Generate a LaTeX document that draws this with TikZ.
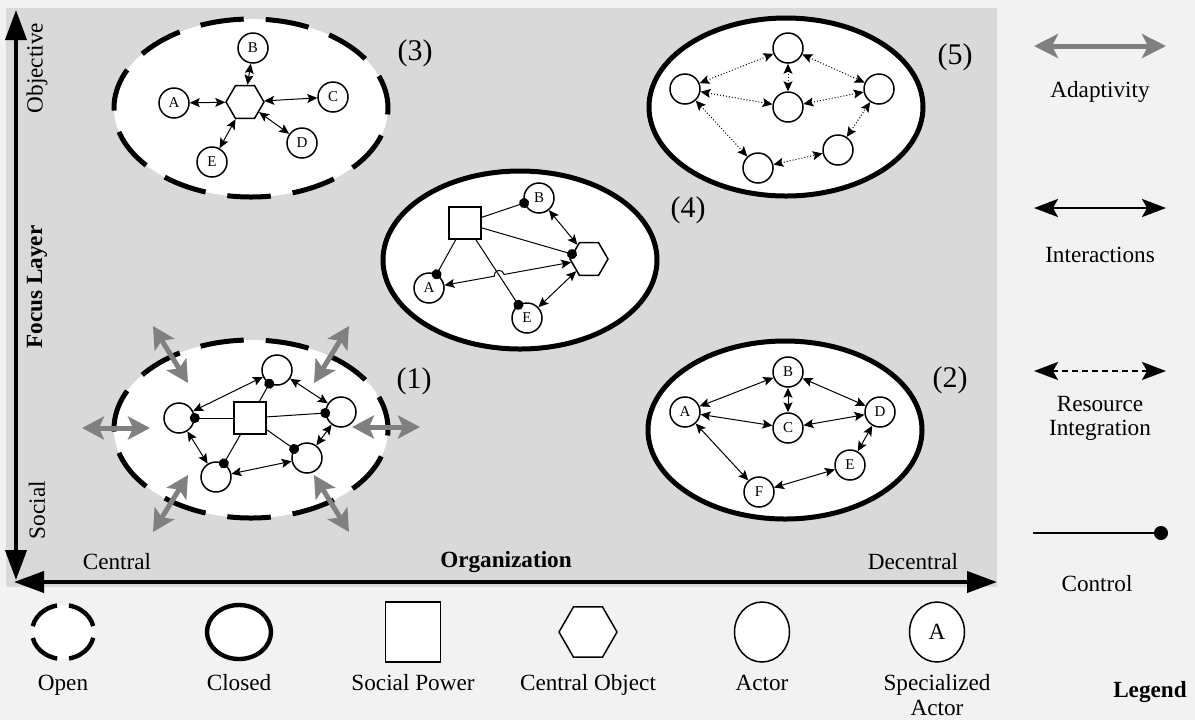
\documentclass[tikz,border=0pt]{standalone}
\usepackage{fontspec}
\setmainfont{Liberation Serif}
\usetikzlibrary{arrows.meta,shapes.geometric,calc}
\definecolor{bgouter}{HTML}{F2F2F2}
\definecolor{bginner}{HTML}{D9D9D9}
\definecolor{adaptgray}{HTML}{808080}
\begin{document}
\begin{tikzpicture}[x=0.5pt,y=-0.5pt,font=\fontsize{11.6}{13}\selectfont,
 actor/.style={circle,draw,line width=0.75pt,fill=white,minimum size=15pt,inner sep=0pt,font=\fontsize{7.5}{8}\selectfont},
 hexa/.style={regular polygon,regular polygon sides=6,draw,line width=0.75pt,fill=white,minimum size=19pt,inner sep=0pt},
 power/.style={rectangle,draw,line width=0.75pt,fill=white,minimum size=16pt,inner sep=0pt},
 inter/.style={line width=0.5pt,{Stealth[length=5pt,width=4.5pt,inset=1pt]}-{Stealth[length=5pt,width=4.5pt,inset=1pt]}},
 resource/.style={inter,densely dotted},
 ctrl/.style={line width=0.5pt,-{Circle[length=5pt]},shorten >=-2.5pt},
 adapt/.style={draw=adaptgray,line width=2.5pt,{Stealth[length=11pt,width=11.5pt,inset=2.5pt]}-{Stealth[length=11pt,width=11.5pt,inset=2.5pt]}},
 closedgroup/.style={ellipse,draw,line width=2.5pt,fill=white,inner sep=0pt,minimum width=137pt,minimum height=89pt},
 opengroup/.style={closedgroup,draw=none,postaction={draw,line width=2.5pt,dash pattern=on 21.8pt off 11pt,dash phase=5pt}},
 tag/.style={font=\fontsize{15}{17}\selectfont},
 axis/.style={line width=2pt,{Triangle[length=15pt,width=10.5pt]}-{Triangle[length=15pt,width=10.5pt]}},
 axlabel/.style={font=\fontsize{11.6}{13}\selectfont},
 boldlabel/.style={font=\fontsize{11.6}{13}\selectfont\bfseries},
 lgshape/.style={draw,line width=0.75pt,fill=white,inner sep=0pt},
 lgtext/.style={anchor=base,inner sep=0pt},
 lgadapt/.style={draw=adaptgray,line width=2.5pt,{Stealth[length=12pt,width=12pt,inset=3pt]}-{Stealth[length=12pt,width=12pt,inset=3pt]}},
 lginter/.style={line width=1.2pt,{Stealth[length=12pt,width=9pt,inset=2.5pt]}-{Stealth[length=12pt,width=9pt,inset=2.5pt]}},
 lgres/.style={lginter,dash pattern=on 3pt off 2pt},
 lgctrl/.style={line width=1pt,-{Circle[length=7pt]}}
]
\useasboundingbox (0,0) rectangle (1195,720);
\fill[bgouter] (0,0) rectangle (1195,720);
\fill[bginner] (6,8) rectangle (997,587);

% ---------- groups ----------
\node[opengroup] (g3) at (251,108) {};
\node[closedgroup] (g5) at (786,107) {};
\node[closedgroup] (g4) at (520,260) {};
\node[opengroup] (g1) at (251,429) {};
\node[closedgroup] (g2) at (785,430) {};

\node[tag] (t3) at (415,53) {(3)};
\node[tag] (t5) at (955,57) {(5)};
\node[tag] (t4) at (688,210) {(4)};
\node[tag] (t1) at (414,381) {(1)};
\node[tag] (t2) at (950,380) {(2)};

% ---------- group (3) ----------
\node[hexa] (h3) at (245,102) {};
\node[actor] (B3) at (253,48) {B};
\node[actor] (A3) at (174,103) {A};
\node[actor] (C3) at (333,97) {C};
\node[actor] (D3) at (302,143) {D};
\node[actor] (E3) at (212,162) {E};
\foreach \n in {A3,B3,C3,D3,E3} \draw[inter] (\n) -- (h3);

% ---------- group (5) ----------
\node[actor] (t5n) at (788,48) {};
\node[actor] (l5n) at (685,89) {};
\node[actor] (m5n) at (788,107) {};
\node[actor] (r5n) at (879,89) {};
\node[actor] (br5n) at (838,150) {};
\node[actor] (bl5n) at (758,168) {};
\draw[resource] (l5n) -- (t5n);
\draw[resource] (t5n) -- (r5n);
\draw[resource] (t5n) -- (m5n);
\draw[resource] (l5n) -- (m5n);
\draw[resource] (m5n) -- (r5n);
\draw[resource] (l5n) -- (bl5n);
\draw[resource] (bl5n) -- (br5n);
\draw[resource] (br5n) -- (r5n);

% ---------- group (4) ----------
\node[power] (S4) at (465,223) {};
\node[actor] (B4) at (539,198) {B};
\node[hexa] (h4) at (589,259) {};
\node[actor] (A4) at (429,288) {A};
\node[actor] (E4) at (527,318) {E};
\draw[ctrl] (S4) -- (B4);
\draw[ctrl] (S4) -- (h4);
\draw[ctrl] (S4) -- (A4);
\draw[ctrl] (S4) -- (E4);
\draw[inter] (B4) -- (h4);
\draw[inter] (E4) -- (h4);
\coordinate (X4) at (intersection of A4--h4 and S4--E4);
\draw[inter] (A4) -- ($(X4)!2.5pt!(A4)$) arc[start angle=190.27,end angle=10.27,radius=2.5pt] -- (h4);

% ---------- group (1) ----------
\node[power] (S1) at (250,418) {};
\node[actor] (T1) at (277,370) {};
\node[actor] (L1) at (179,418) {};
\node[actor] (R1) at (341,412) {};
\node[actor] (BR1) at (307,458) {};
\node[actor] (BL1) at (216,477) {};
\foreach \n in {T1,L1,R1,BR1,BL1} \draw[ctrl] (S1) -- (\n);
\draw[inter] (L1) -- (T1);
\draw[inter] (T1) -- (R1);
\draw[inter] (R1) -- (BR1);
\draw[inter] (BR1) -- (BL1);
\draw[inter] (BL1) -- (L1);
\coordinate (a1s) at (82,428);  \coordinate (a1e) at (150,428);
\coordinate (a2s) at (352,427); \coordinate (a2e) at (420,427);
\coordinate (a3s) at (153,326); \coordinate (a3e) at (188,383);
\coordinate (a4s) at (349,326); \coordinate (a4e) at (314,383);
\coordinate (a5s) at (188,475); \coordinate (a5e) at (153,532);
\coordinate (a6s) at (314,475); \coordinate (a6e) at (349,532);
\foreach \i in {1,...,6} \draw[adapt] (a\i s) -- (a\i e);

% ---------- group (2) ----------
\node[actor] (A2) at (685,412) {A};
\node[actor] (B2) at (788,372) {B};
\node[actor] (C2) at (788,428) {C};
\node[actor] (D2) at (880,412) {D};
\node[actor] (E2) at (850,465) {E};
\node[actor] (F2) at (759,492) {F};
\draw[inter] (A2) -- (B2);
\draw[inter] (B2) -- (D2);
\draw[inter] (B2) -- (C2);
\draw[inter] (A2) -- (C2);
\draw[inter] (C2) -- (D2);
\draw[inter] (A2) -- (F2);
\draw[inter] (F2) -- (E2);
\draw[inter] (E2) -- (D2);

% ---------- axes ----------
\coordinate (yTop) at (16,10);
\coordinate (yBot) at (16,580);
\coordinate (xL) at (14,582);
\coordinate (xR) at (997,582);
\draw[axis] (yBot) -- (yTop);
\draw[axis] (xL) -- (xR);
\node[axlabel,rotate=90] (lobj) at (37,68) {Objective};
\node[boldlabel,rotate=90] (lfoc) at (37,287) {Focus Layer};
\node[axlabel,rotate=90] (lsoc) at (37,510) {Social};
\node[axlabel] (lcen) at (117,562) {Central};
\node[boldlabel] (lorg) at (506,562) {Organization};
\node[axlabel] (ldec) at (913,562) {Decentral};

% ---------- right legend ----------
\coordinate (adL) at (1034,46);  \coordinate (adR) at (1166,46);
\draw[lgadapt] (adL) -- (adR);
\node (ladapt) at (1100,92) {Adaptivity};
\coordinate (inL) at (1034,208); \coordinate (inR) at (1166,208);
\draw[lginter] (inL) -- (inR);
\node (linter) at (1100,255) {Interactions};
\coordinate (reL) at (1034,371); \coordinate (reR) at (1166,371);
\draw[lgres] (reL) -- (reR);
\node[align=center] (lres) at (1100,418) {Resource\\[-1pt]Integration};
\coordinate (coL) at (1033,533); \coordinate (coR) at (1168,533);
\draw[lgctrl] (coL) -- (coR);
\node (lctrl) at (1097,584) {Control};

% ---------- bottom legend ----------
\node[ellipse,fill=white,inner sep=0pt,minimum width=31pt,minimum height=27pt,postaction={draw,line width=2.2pt,dash pattern=on 16.8pt off 6pt,dash phase=19.8pt}] (lgOpen) at (63,632) {};
\node[ellipse,draw,line width=2.2pt,fill=white,inner sep=0pt,minimum width=32pt,minimum height=27pt] (lgClosed) at (239,632) {};
\node[lgshape,rectangle,minimum width=27.5pt,minimum height=30pt] (lgPower) at (413,632) {};
\node[lgshape,regular polygon,regular polygon sides=6,minimum size=29pt] (lgHex) at (588,632) {};
\node[lgshape,ellipse,minimum width=27.5pt,minimum height=30pt] (lgActor) at (762,632) {};
\node[lgshape,ellipse,minimum width=27.5pt,minimum height=30pt] (lgSpec) at (937,632) {A};
\node[lgtext] (tOpen) at (63,690) {Open};
\node[lgtext] (tClosed) at (239,690) {Closed};
\node[lgtext] (tPower) at (413,690) {Social Power};
\node[lgtext] (tHex) at (588,690) {Central Object};
\node[lgtext] (tActor) at (762,690) {Actor};
\node[lgtext] (tSpec) at (937,690) {Specialized};
\node[lgtext] (tSpec2) at (937,715) {Actor};
\node[boldlabel,anchor=base,inner sep=0pt] (tLegend) at (1150,697) {Legend};
\end{tikzpicture}
\end{document}
